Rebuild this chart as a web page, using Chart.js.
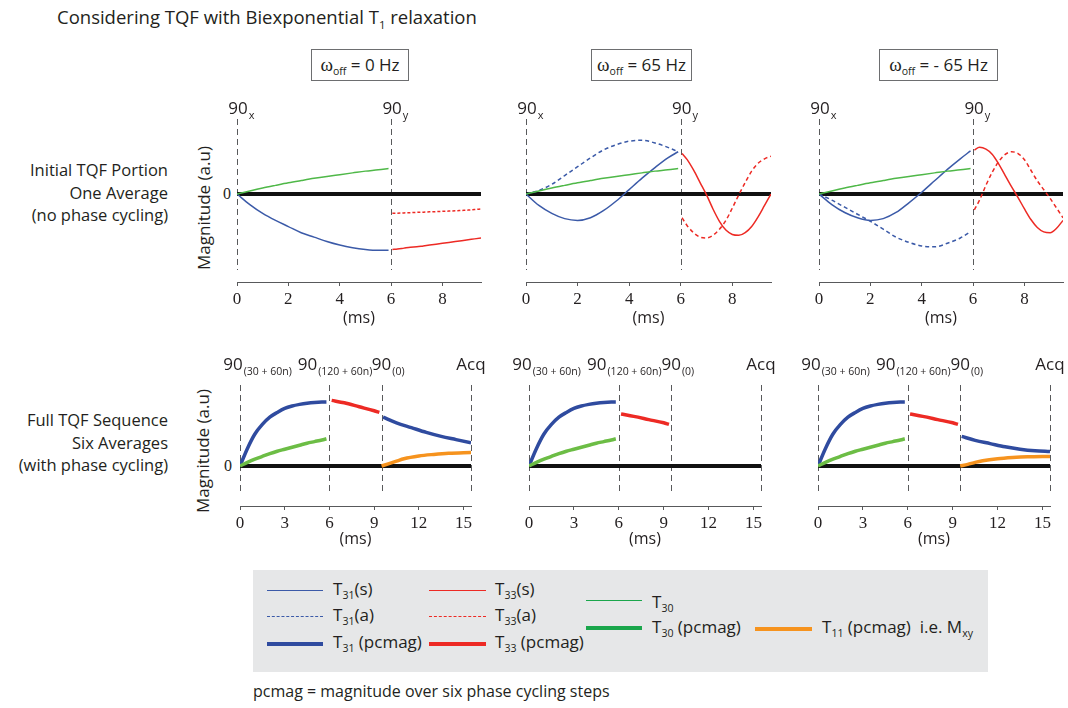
<!DOCTYPE html>
<html>
<head>
<meta charset="utf-8">
<script src="https://cdn.jsdelivr.net/npm/chart.js@4.4.0/dist/chart.umd.min.js"></script>
<style>
  body { margin: 0; width: 1068px; height: 708px; overflow: hidden; background: #fff; position: relative;
         font-family: "Open Sans", sans-serif; color: #231f20; }
  .abs { position: absolute; white-space: nowrap; }
  canvas { position: absolute; }
  sub { font-size: 62%; vertical-align: -0.4em; line-height: 0; }
  .omega { font-family: "Liberation Serif", serif; font-size: 19px; }
  .tbox { border: 1.5px solid #6d6e70; height: 30px; line-height: 30px; text-align: center; font-size: 17px; top: 49px; }
  .rowlab { text-align: right; font-size: 16.5px; line-height: 22.5px; right: 900px; }
  .ylab { font-size: 17px; transform: translate(-50%, -50%) rotate(-90deg); }
  .zero { font-family: "Liberation Serif", serif; font-size: 16px; transform: translate(-50%, -50%); }
  .legend { left: 253px; top: 570px; width: 735px; height: 102px; background: #e6e7e8; }
  .lt { font-size: 17px; line-height: 22px; }
</style>
</head>
<body>
<div class="abs" style="left:57px;top:4px;font-size:18.5px;">Considering TQF with Biexponential T<sub>1</sub> relaxation</div>

<div class="abs tbox" style="left:311px;width:96px;"><span class="omega">ω</span><sub>off</sub> = 0 Hz</div>
<div class="abs tbox" style="left:591px;width:99px;"><span class="omega">ω</span><sub>off</sub> = 65 Hz</div>
<div class="abs tbox" style="left:879px;width:117px;"><span class="omega">ω</span><sub>off</sub> = - 65 Hz</div>

<div class="abs rowlab" style="top:159px;">Initial TQF Portion<br>One Average<br>(no phase cycling)</div>
<div class="abs rowlab" style="top:409px;">Full TQF Sequence<br>Six Averages<br>(with phase cycling)</div>

<div class="abs ylab" style="left:203px;top:208px;">Magnitude (a.u)</div>
<div class="abs ylab" style="left:202px;top:451px;">Magnitude (a.u)</div>
<div class="abs zero" style="left:227px;top:194px;">0</div>
<div class="abs zero" style="left:228px;top:466px;">0</div>

<div class="abs legend"></div>
<div class="abs" style="left:267px;top:590px;width:56px;border-top:1.5px solid #3b5aa8;"></div>
<div class="abs" style="left:267px;top:616px;width:56px;border-top:1.5px dashed #3b5aa8;"></div>
<div class="abs" style="left:267px;top:642px;width:56px;border-top:4px solid #2f4b9f;"></div>
<div class="abs lt" style="left:333px;top:578px;">T<sub>31</sub>(s)</div>
<div class="abs lt" style="left:333px;top:604px;">T<sub>31</sub>(a)</div>
<div class="abs lt" style="left:333px;top:631px;">T<sub>31</sub> (pcmag)</div>
<div class="abs" style="left:429px;top:590px;width:57px;border-top:1.5px solid #ed2a24;"></div>
<div class="abs" style="left:429px;top:616px;width:57px;border-top:1.5px dashed #ed2a24;"></div>
<div class="abs" style="left:429px;top:642px;width:57px;border-top:4px solid #ed2a24;"></div>
<div class="abs lt" style="left:495px;top:578px;">T<sub>33</sub>(s)</div>
<div class="abs lt" style="left:495px;top:604px;">T<sub>33</sub>(a)</div>
<div class="abs lt" style="left:495px;top:631px;">T<sub>33</sub> (pcmag)</div>
<div class="abs" style="left:586px;top:600px;width:56px;border-top:1.5px solid #1aa64b;"></div>
<div class="abs" style="left:586px;top:626px;width:56px;border-top:4px solid #1aa64b;"></div>
<div class="abs lt" style="left:652px;top:591px;">T<sub>30</sub></div>
<div class="abs lt" style="left:652px;top:616px;">T<sub>30</sub> (pcmag)</div>
<div class="abs" style="left:755px;top:627px;width:57px;border-top:4px solid #f6931e;"></div>
<div class="abs lt" style="left:822px;top:616px;">T<sub>11</sub> (pcmag)&nbsp; i.e. M<sub>xy</sub></div>
<div class="abs" style="left:253px;top:680px;font-size:16px;">pcmag = magnitude over six phase cycling steps</div>

<script>
// time grids (ms)
const tPre = [0, 0.5, 1, 1.5, 2, 2.5, 3, 3.5, 4, 4.5, 5, 5.5, 5.9];
const tPost = [6.05, 6.25, 6.5, 6.75, 7, 7.25, 7.5, 7.75, 8, 8.25, 8.5, 8.75, 9, 9.25, 9.5];
const tSeq1 = [0, 0.5, 1, 1.5, 2, 2.5, 3, 3.5, 4, 4.5, 5, 5.5, 5.8];
const tSeq2 = [6.15, 7, 8, 9, 9.35];
const tSeq3 = [9.6, 10.5, 11.5, 12.5, 13.5, 14.5, 15.5];
const tSeq4 = [9.5, 10, 10.5, 11, 12, 13, 14, 15.5];

// pulse markers
const topPulseTimes = [0, 6];
const topPulseLabels = [["90", "x"], ["90", "y"]];
const seqPulseTimes = [0, 6, 9.5, 15.5];
const seqPulseLabels = [["90", "(30 + 60n)"], ["90", "(120 + 60n)"], ["90", "(0)"], ["Acq", ""]];

// initial TQF portion, one average
const t30Top = [0, 0.035, 0.068, 0.098, 0.127, 0.153, 0.178, 0.2, 0.22, 0.24, 0.26, 0.275, 0.29];
const t31s0Hz = [0, -0.12, -0.22, -0.3, -0.37, -0.44, -0.49, -0.54, -0.58, -0.61, -0.63, -0.64, -0.64];
const t33s0Hz = [-0.63, -0.625, -0.615, -0.605, -0.6, -0.59, -0.58, -0.57, -0.56, -0.55, -0.54, -0.53, -0.52, -0.51, -0.5];
const t33a0Hz = [-0.22, -0.218, -0.215, -0.212, -0.209, -0.206, -0.203, -0.2, -0.197, -0.194, -0.191, -0.187, -0.183, -0.177, -0.17];

const t31s65 = [0, -0.13, -0.22, -0.28, -0.3, -0.27, -0.19, -0.08, 0.05, 0.18, 0.3, 0.41, 0.48];
const t31a65 = [0, 0.04, 0.11, 0.21, 0.31, 0.41, 0.5, 0.56, 0.6, 0.61, 0.58, 0.53, 0.48];
const t33s65 = [0.46, 0.39, 0.27, 0.13, -0.01, -0.17, -0.31, -0.41, -0.46, -0.47, -0.44, -0.37, -0.26, -0.13, 0];
const t33a65 = [-0.27, -0.36, -0.44, -0.49, -0.5, -0.47, -0.4, -0.3, -0.16, -0.01, 0.13, 0.26, 0.35, 0.4, 0.43];

const t31sM65 = [0, -0.12, -0.21, -0.27, -0.3, -0.28, -0.21, -0.1, 0.02, 0.15, 0.28, 0.4, 0.49];
const t31aM65 = [0, -0.07, -0.15, -0.23, -0.31, -0.4, -0.49, -0.55, -0.59, -0.6, -0.56, -0.5, -0.43];
const t33sM65 = [0.5, 0.53, 0.51, 0.45, 0.34, 0.21, 0.08, -0.04, -0.17, -0.29, -0.38, -0.43, -0.44, -0.39, -0.3];
const t33aM65 = [-0.18, -0.07, 0.1, 0.25, 0.37, 0.45, 0.48, 0.46, 0.39, 0.27, 0.15, 0.05, -0.05, -0.16, -0.27];

// full TQF sequence, six averages (pcmag)
const t31pcFirst = [0, 0.22, 0.4, 0.52, 0.61, 0.67, 0.72, 0.75, 0.77, 0.785, 0.795, 0.8, 0.8];
const t30pc = [0, 0.045, 0.085, 0.12, 0.155, 0.185, 0.21, 0.235, 0.26, 0.285, 0.305, 0.325, 0.34];
const t33pc0Hz = [0.82, 0.79, 0.74, 0.69, 0.67];
const t33pc65 = [0.65, 0.62, 0.58, 0.54, 0.52];
const t33pcM65 = [0.65, 0.62, 0.58, 0.54, 0.52];
const t31pcLast0Hz = [0.61, 0.54, 0.48, 0.42, 0.37, 0.33, 0.29];
const t31pcLastM65 = [0.37, 0.32, 0.28, 0.24, 0.21, 0.19, 0.18];
const t11pc0Hz = [0, 0.03, 0.06, 0.09, 0.125, 0.145, 0.16, 0.17];
const t11pcM65 = [0, 0.02, 0.045, 0.065, 0.09, 0.105, 0.115, 0.12];

const BLUE = "#3b5aa8", BLUE_THICK = "#2f4b9f", RED = "#ed2a24", GREEN = "#4fb848", GREEN_THICK = "#6cbd45", ORANGE = "#f6931e";
const SANS = '"Open Sans", sans-serif';

function series(xs, ys) {
    return xs.map((x, i) => ({ x, y: ys[i] }));
}

function curve(xs, ys, color, width, dash) {
    return {
        data: series(xs, ys),
        borderColor: color,
        borderWidth: width,
        borderDash: dash || [],
        pointRadius: 0,
        cubicInterpolationMode: "monotone",
        fill: false,
    };
}

// dashed pulse markers, zero line and pulse labels
const tqfDecor = {
    id: "tqfDecor",
    beforeDatasetsDraw(chart, args, opts) {
        const { ctx, chartArea, scales } = chart;
        ctx.save();
        ctx.strokeStyle = "#58595b";
        ctx.lineWidth = 1;
        ctx.setLineDash([6, 4]);
        opts.times.forEach((t) => {
            const x = Math.round(scales.x.getPixelForValue(t)) + 0.5;
            ctx.beginPath();
            ctx.moveTo(x, chartArea.top + opts.dashTop);
            ctx.lineTo(x, chartArea.bottom - opts.dashBottom);
            ctx.stroke();
        });
        ctx.setLineDash([]);
        const y0 = scales.y.getPixelForValue(0);
        ctx.strokeStyle = "#111";
        ctx.lineWidth = 4;
        ctx.beginPath();
        ctx.moveTo(scales.x.getPixelForValue(scales.x.min), y0);
        ctx.lineTo(scales.x.getPixelForValue(scales.x.max), y0);
        ctx.stroke();
        ctx.restore();
    },
    afterDraw(chart, args, opts) {
        const { ctx, chartArea, scales } = chart;
        ctx.save();
        ctx.fillStyle = "#231f20";
        ctx.textBaseline = "middle";
        ctx.textAlign = "left";
        opts.labels.forEach(([main, sub], i) => {
            const x = scales.x.getPixelForValue(opts.times[i]) + opts.shift[i];
            ctx.font = "17px " + SANS;
            const mw = ctx.measureText(main).width;
            const left = x - mw / 2;
            const y = chartArea.top + opts.labelDy;
            ctx.fillText(main, left, y);
            ctx.font = opts.subSize + "px " + SANS;
            ctx.fillText(sub, left + mw + 1, y + 7);
        });
        ctx.restore();
    },
};

function panel(cfg) {
    const padL = 50, padR = 30, padT = 32;
    const [left, top, right, bottom] = cfg.area;
    const canvas = document.createElement("canvas");
    canvas.width = right - left + padL + padR;
    canvas.height = padT + (bottom - top) + cfg.axisH;
    canvas.style.left = (left - padL) + "px";
    canvas.style.top = (top - padT) + "px";
    document.body.appendChild(canvas);
    new Chart(canvas, {
        type: "line",
        data: { datasets: cfg.datasets },
        options: {
            responsive: false,
            animation: false,
            events: [],
            layout: { padding: { left: padL, right: padR, top: padT, bottom: 0 } },
            plugins: {
                legend: { display: false },
                tooltip: { enabled: false },
                tqfDecor: cfg.decor,
            },
            scales: {
                x: {
                    type: "linear",
                    min: 0,
                    max: cfg.xMax,
                    afterFit: (scale) => { scale.height = cfg.axisH; },
                    ticks: {
                        stepSize: cfg.step,
                        includeBounds: false,
                        autoSkip: false,
                        maxRotation: 0,
                        padding: 3,
                        color: "#231f20",
                        font: { family: "'Liberation Serif', serif", size: 17 },
                    },
                    grid: { drawOnChartArea: false, drawTicks: true, tickLength: 4, color: "#58595b" },
                    border: { color: "#58595b", width: 1 },
                    title: { display: true, text: "(ms)", color: "#231f20", padding: 0, font: { family: "'Open Sans', sans-serif", size: 16 } },
                },
                y: { display: false, min: cfg.yMin, max: cfg.yMax },
            },
        },
        plugins: [tqfDecor],
    });
}

const topDecor = { times: topPulseTimes, labels: topPulseLabels, shift: [1, 1], dashTop: 13, dashBottom: 12, labelDy: 3, subSize: 11 };
const seqDecor = { times: seqPulseTimes, labels: seqPulseLabels, shift: [-7, -22, 0, 0], dashTop: 19, dashBottom: 11, labelDy: -1, subSize: 10.5 };

const topRow = { xMax: 9.5, step: 2, yMin: -1, yMax: 1, axisH: 46, decor: topDecor };
const seqRow = { xMax: 15.5, step: 3, yMin: -0.5, yMax: 1.25, axisH: 43, decor: seqDecor };

panel({ ...topRow, area: [237, 106, 481, 282], datasets: [
    curve(tPre, t30Top, GREEN, 1.5),
    curve(tPre, t31s0Hz, BLUE, 1.5),
    curve(tPost, t33a0Hz, RED, 1.5, [3, 2]),
    curve(tPost, t33s0Hz, RED, 1.5),
] });
panel({ ...topRow, area: [526, 106, 771, 282], datasets: [
    curve(tPre, t30Top, GREEN, 1.5),
    curve(tPre, t31a65, BLUE, 1.5, [4, 3]),
    curve(tPre, t31s65, BLUE, 1.5),
    curve(tPost, t33a65, RED, 1.5, [4, 3]),
    curve(tPost, t33s65, RED, 1.5),
] });
panel({ ...topRow, area: [819, 106, 1063, 282], datasets: [
    curve(tPre, t30Top, GREEN, 1.5),
    curve(tPre, t31aM65, BLUE, 1.5, [4, 3]),
    curve(tPre, t31sM65, BLUE, 1.5),
    curve(tPost, t33aM65, RED, 1.5, [4, 3]),
    curve(tPost, t33sM65, RED, 1.5),
] });

panel({ ...seqRow, area: [240, 366, 471, 506], datasets: [
    curve(tSeq1, t30pc, GREEN_THICK, 3.5),
    curve(tSeq1, t31pcFirst, BLUE_THICK, 3.5),
    curve(tSeq2, t33pc0Hz, RED, 3.5),
    curve(tSeq3, t31pcLast0Hz, BLUE_THICK, 3.5),
    curve(tSeq4, t11pc0Hz, ORANGE, 3.5),
] });
panel({ ...seqRow, area: [529, 366, 761, 506], datasets: [
    curve(tSeq1, t30pc, GREEN_THICK, 3.5),
    curve(tSeq1, t31pcFirst, BLUE_THICK, 3.5),
    curve(tSeq2, t33pc65, RED, 3.5),
] });
panel({ ...seqRow, area: [818, 366, 1050, 506], datasets: [
    curve(tSeq1, t30pc, GREEN_THICK, 3.5),
    curve(tSeq1, t31pcFirst, BLUE_THICK, 3.5),
    curve(tSeq2, t33pcM65, RED, 3.5),
    curve(tSeq3, t31pcLastM65, BLUE_THICK, 3.5),
    curve(tSeq4, t11pcM65, ORANGE, 3.5),
] });
</script>
</body>
</html>
